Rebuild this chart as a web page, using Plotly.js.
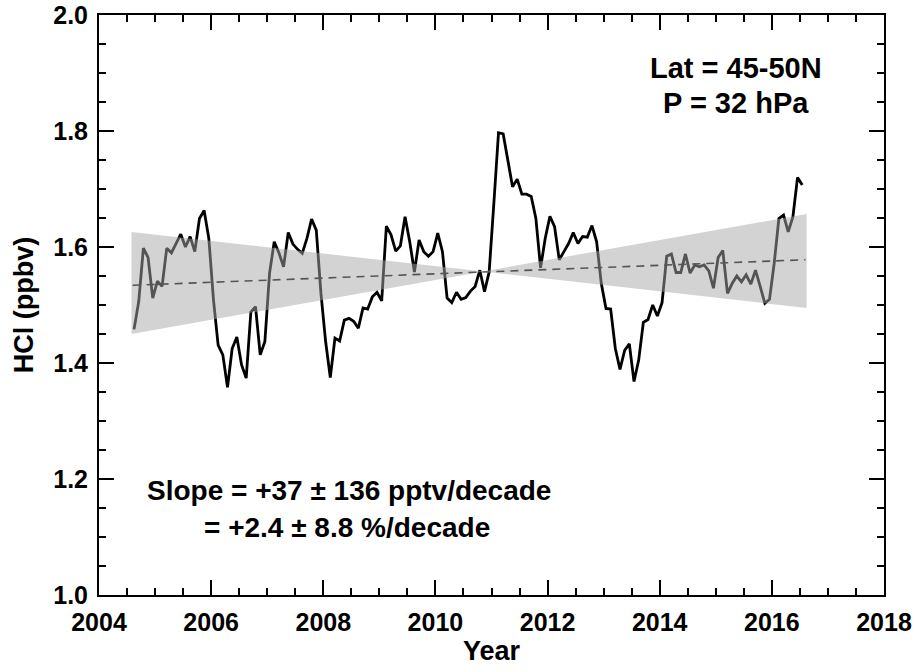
<!DOCTYPE html>
<html>
<head>
<meta charset="utf-8">
<script src="https://cdn.plot.ly/plotly-3.0.1.min.js"></script>
<style>html,body{margin:0;padding:0;background:#fff;}#chart{width:917px;height:672px;}</style>
</head>
<body>
<div id="chart"></div>
<script>
// Monthly HCl (ppbv), Aug 2004 .. Jul 2016
const startYear = 2004.625;
const hclValues = [
 1.458,1.506,1.598,1.582,1.512,1.541,1.532,1.598,1.590,1.606,1.622,1.600,
 1.618,1.592,1.649,1.663,1.615,1.509,1.431,1.414,1.358,1.425,1.445,1.397,
 1.374,1.488,1.497,1.414,1.437,1.555,1.609,1.590,1.566,1.625,1.605,1.596,
 1.589,1.615,1.648,1.629,1.520,1.437,1.375,1.443,1.438,1.474,1.477,1.472,
 1.460,1.495,1.493,1.514,1.522,1.507,1.636,1.621,1.593,1.602,1.652,1.609,
 1.557,1.612,1.592,1.584,1.592,1.624,1.592,1.512,1.504,1.522,1.510,1.513,
 1.524,1.532,1.560,1.523,1.557,1.675,1.797,1.795,1.750,1.704,1.717,1.691,
 1.691,1.687,1.649,1.564,1.615,1.653,1.635,1.578,1.592,1.606,1.625,1.606,
 1.618,1.617,1.637,1.609,1.537,1.494,1.493,1.425,1.389,1.422,1.433,1.368,
 1.405,1.470,1.475,1.500,1.481,1.504,1.584,1.588,1.556,1.556,1.588,1.555,
 1.569,1.566,1.569,1.559,1.529,1.582,1.594,1.520,1.537,1.550,1.540,1.552,
 1.536,1.560,1.532,1.503,1.510,1.572,1.649,1.655,1.626,1.652,1.720,1.707
];
const hclYears = hclValues.map((v, i) => startYear + i / 12);

// Linear trend and its uncertainty envelope (slope +/- error)
const trendYears = [2004.6, 2016.6];
const trendValues = [1.534, 1.578];
const bandYears = [2004.58, 2016.62];
const bandLineA = [1.626, 1.495];
const bandLineB = [1.450, 1.657];

const xTicks = [2004, 2006, 2008, 2010, 2012, 2014, 2016, 2018];
const yTicks = [1.0, 1.2, 1.4, 1.6, 1.8, 2.0];
const yTickText = ['1.0', '1.2', '1.4', '1.6', '1.8', '2.0'];

const labelLat = 'Lat = 45-50N';
const labelP = 'P = 32 hPa';
const labelSlope1 = 'Slope = +37 \u00b1 136 pptv/decade';
const labelSlope2 = '= +2.4 \u00b1 8.8 %/decade';

const FONT = 'Liberation Sans, Arial, Helvetica, sans-serif';

const traces = [
  {
    x: hclYears, y: hclValues, type: 'scatter', mode: 'lines',
    line: {color: '#000', width: 2.8}, hoverinfo: 'skip', showlegend: false
  },
  {
    x: [bandYears[0], bandYears[1], bandYears[1], bandYears[0]],
    y: [bandLineA[0], bandLineA[1], bandLineB[1], bandLineB[0]],
    type: 'scatter', mode: 'lines', fill: 'toself',
    fillcolor: 'rgba(168,168,168,0.5)', line: {width: 0, color: 'rgba(0,0,0,0)'},
    hoverinfo: 'skip', showlegend: false
  },
  {
    x: trendYears, y: trendValues, type: 'scatter', mode: 'lines',
    line: {color: '#555', width: 1.6, dash: '8px,6px'}, hoverinfo: 'skip', showlegend: false
  }
];

const axisCommon = {
  showline: true, linecolor: '#000', linewidth: 2, mirror: 'ticks',
  ticks: 'inside', ticklen: 15, tickwidth: 2, tickcolor: '#000',
  showgrid: false, zeroline: false, ticklabelstandoff: 4,
  tickfont: {family: FONT, size: 25, color: '#000', weight: 700}
};

const layout = {
  width: 917, height: 672,
  margin: {l: 99, r: 33, t: 15, b: 77},
  paper_bgcolor: '#fff', plot_bgcolor: '#fff',
  showlegend: false,
  xaxis: Object.assign({}, axisCommon, {
    range: [2004, 2018], tickmode: 'array', tickvals: xTicks,
    ticktext: xTicks.map(String),
    minor: {dtick: 0.5, ticklen: 7, tickwidth: 2, tickcolor: '#000', ticks: 'inside'},
    title: {text: 'Year', font: {family: FONT, size: 27, color: '#000', weight: 700}, standoff: 6}
  }),
  yaxis: Object.assign({}, axisCommon, {
    range: [1.0, 2.0], tickmode: 'array', tickvals: yTicks, ticktext: yTickText,
    minor: {dtick: 0.05, ticklen: 7, tickwidth: 2, tickcolor: '#000', ticks: 'inside'},
    title: {text: 'HCl (ppbv)', font: {family: FONT, size: 27, color: '#000', weight: 700}, standoff: 12}
  }),
  annotations: [
    {x: 2015.36, y: 1.909, xref: 'x', yref: 'y', text: labelLat, showarrow: false,
     xanchor: 'center', yanchor: 'middle', font: {family: FONT, size: 29, color: '#000', weight: 700}},
    {x: 2015.36, y: 1.848, xref: 'x', yref: 'y', text: labelP, showarrow: false,
     xanchor: 'center', yanchor: 'middle', font: {family: FONT, size: 29, color: '#000', weight: 700}},
    {x: 2004.82, y: 1.181, xref: 'x', yref: 'y', text: labelSlope1, showarrow: false,
     xanchor: 'left', yanchor: 'middle', font: {family: FONT, size: 28, color: '#000', weight: 700}},
    {x: 2005.84, y: 1.117, xref: 'x', yref: 'y', text: labelSlope2, showarrow: false,
     xanchor: 'left', yanchor: 'middle', font: {family: FONT, size: 28, color: '#000', weight: 700}}
  ]
};

Plotly.newPlot('chart', traces, layout, {displayModeBar: false, staticPlot: true});
</script>
</body>
</html>
